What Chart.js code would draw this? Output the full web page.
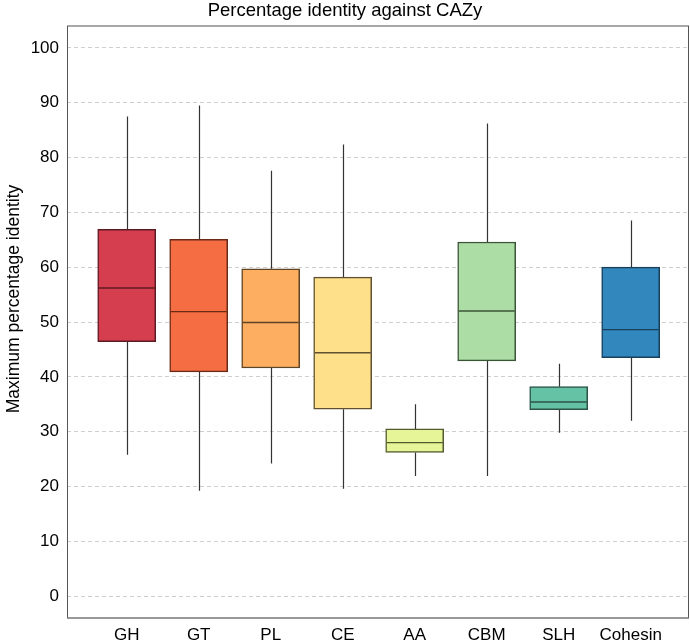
<!DOCTYPE html>
<html>
<head>
<meta charset="utf-8">
<script src="https://cdn.jsdelivr.net/npm/chart.js@4/dist/chart.umd.min.js"></script>
<style>
  body { margin: 0; background: #fff; }
  canvas { display: block; }
</style>
</head>
<body>
<canvas id="grafik" width="690" height="641"></canvas>
<script>
const categories = ["GH", "GT", "PL", "CE", "AA", "CBM", "SLH", "Cohesin"];
const whiskerLow = [25.8, 19.2, 24.2, 19.6, 21.9, 21.9, 29.8, 32.0];
const q1 = [46.4, 40.9, 41.6, 34.1, 26.2, 42.9, 34.0, 43.5];
const medians = [56.2, 51.9, 49.9, 44.4, 28.0, 52.0, 35.4, 48.6];
const q3 = [66.9, 65.1, 59.7, 58.2, 30.5, 64.6, 38.2, 60.0];
const whiskerHigh = [87.5, 89.5, 77.6, 82.4, 35.0, 86.2, 42.4, 68.5];
const yTicks = [0, 10, 20, 30, 40, 50, 60, 70, 80, 90, 100];

// Spectral palette, darker edge for each box
const fills = ["#d53e4f", "#f46d43", "#fdae61", "#fee08b", "#e6f598", "#abdda4", "#66c2a5", "#3288bd"];
const edges = ["#5e1a22", "#6a2a16", "#5f4325", "#5e5030", "#55592f", "#3b5438", "#2b5346", "#173f5c"];

const FONT = "'Liberation Sans', Arial, Helvetica, sans-serif";

// whiskers, medians, frame and titles
const boxExtras = {
  id: "boxExtras",
  beforeDatasetsDraw(chart) {
    const ctx = chart.ctx;
    const x = chart.scales.x, y = chart.scales.y;
    ctx.save();
    ctx.strokeStyle = "#333";
    ctx.lineWidth = 1.2;
    categories.forEach((c, i) => {
      const px = Math.round(x.getPixelForValue(i)) + 0.5;
      ctx.beginPath();
      ctx.moveTo(px, y.getPixelForValue(whiskerHigh[i]));
      ctx.lineTo(px, y.getPixelForValue(q3[i]));
      ctx.moveTo(px, y.getPixelForValue(q1[i]));
      ctx.lineTo(px, y.getPixelForValue(whiskerLow[i]));
      ctx.stroke();
    });
    ctx.restore();
  },
  afterDatasetsDraw(chart) {
    const ctx = chart.ctx;
    const y = chart.scales.y;
    const area = chart.chartArea;
    const meta = chart.getDatasetMeta(0);
    ctx.save();
    meta.data.forEach((bar, i) => {
      const half = bar.width / 2;
      const py = y.getPixelForValue(medians[i]);
      ctx.strokeStyle = edges[i];
      ctx.lineWidth = 1.4;
      ctx.beginPath();
      ctx.moveTo(bar.x - half + 1, py);
      ctx.lineTo(bar.x + half - 1, py);
      ctx.stroke();
    });

    // frame
    ctx.lineWidth = 2;
    ctx.strokeStyle = "#a8a8a8";
    ctx.beginPath();
    ctx.moveTo(area.left, area.top);
    ctx.lineTo(area.right, area.top);
    ctx.stroke();
    ctx.lineWidth = 1;
    ctx.strokeStyle = "#555";
    ctx.beginPath();
    ctx.moveTo(area.left + 0.5, area.top);
    ctx.lineTo(area.left + 0.5, area.bottom);
    ctx.moveTo(area.right - 0.5, area.top);
    ctx.lineTo(area.right - 0.5, area.bottom);
    ctx.stroke();
    ctx.strokeStyle = "#777";
    ctx.lineWidth = 1.5;
    ctx.beginPath();
    ctx.moveTo(area.left, area.bottom);
    ctx.lineTo(area.right, area.bottom);
    ctx.stroke();

    // titles
    ctx.fillStyle = "#000";
    ctx.textAlign = "center";
    ctx.textBaseline = "middle";
    ctx.font = "18.5px " + FONT;
    ctx.fillText("Percentage identity against CAZy", 345, 11);
    ctx.translate(14, 299);
    ctx.rotate(-Math.PI / 2);
    ctx.font = "17.5px " + FONT;
    ctx.fillText("Maximum percentage identity", 0, 0);
    ctx.restore();
  }
};

const ctx = document.getElementById("grafik").getContext("2d");
new Chart(ctx, {
  type: "bar",
  data: {
    datasets: [{
      label: "IQR",
      data: categories.map((c, i) => ({ x: i, y: [q1[i], q3[i]] })),
      backgroundColor: fills,
      borderColor: edges,
      borderWidth: 1.5,
      borderSkipped: false,
      barThickness: 58
    }]
  },
  options: {
    responsive: false,
    animation: false,
    layout: { padding: { top: 26, right: 1, left: 0, bottom: 0 } },
    plugins: {
      legend: { display: false },
      tooltip: { enabled: false },
      title: { display: false }
    },
    scales: {
      x: {
        type: "linear",
        offset: false,
        min: -0.829,
        max: 7.81,
        afterFit: s => { s.height = 23; },
        afterBuildTicks: s => { s.ticks = categories.map((c, i) => ({ value: i })); },
        grid: { display: false, drawTicks: false, offset: false },
        border: { display: false },
        ticks: {
          padding: 7,
          color: "#000",
          font: { size: 17, family: FONT },
          maxRotation: 0,
          autoSkip: false,
          callback: v => categories[v]
        }
      },
      y: {
        min: -4,
        max: 104,
        afterFit: s => { s.width = 67; },
        afterBuildTicks: s => { s.ticks = yTicks.map(v => ({ value: v })); },
        grid: { color: "#cfcfcf", lineWidth: 1, drawTicks: false },
        border: { display: false, dash: [4, 3] },
        ticks: {
          padding: 8,
          color: "#000",
          font: { size: 17, family: FONT }
        }
      }
    }
  },
  plugins: [boxExtras]
});
</script>
</body>
</html>
